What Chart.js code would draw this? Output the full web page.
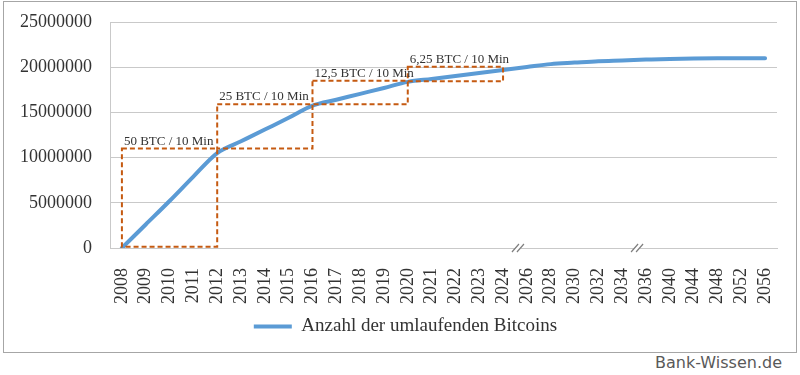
<!DOCTYPE html>
<html>
<head>
<meta charset="UTF-8"/>
<title>Anzahl der umlaufenden Bitcoins</title>
<script src="https://cdn.jsdelivr.net/npm/chart.js@4.4.0/dist/chart.umd.min.js"></script>
<style>
    body { margin: 0; background: #fff; }
    #chartBox {
        position: absolute;
        left: 3px;
        top: 1px;
        width: 792px;
        height: 350px;
        border: 1px solid #a6a6a6;
    }
    #credit {
        position: absolute;
        left: 655px;
        top: 355px;
        line-height: 16px;
        font-family: "DejaVu Sans", sans-serif;
        font-size: 16px;
        color: #595959;
    }
</style>
</head>
<body>
<div id="chartBox">
    <canvas id="btcChart"></canvas>
</div>
<div id="credit">Bank-Wissen.de</div>

<script type="text/javascript">
    // Jahre (x-Achse)
    var years = ['2008', '2009', '2010', '2011', '2012', '2013', '2014', '2015', '2016',
        '2017', '2018', '2019', '2020', '2021', '2022', '2023', '2024',
        '2026', '2028', '2030', '2032', '2034', '2036', '2040', '2044', '2048', '2052', '2056'];

    // umlaufende Bitcoins
    var coins = [0, 2600000, 5200000, 7900000, 10500000, 11800000, 13100000, 14400000, 15750000,
        16400000, 17050000, 17700000, 18380000, 18700000, 19030000, 19360000, 19690000,
        20020000, 20340000, 20510000, 20670000, 20750000, 20840000, 20920000, 20960000, 20980000, 20990000, 21000000];

    // Halving-Kästen
    var boxFrom = ['2008', '2012', '2016', '2020'];
    var boxTo = ['2012', '2016', '2020', '2024'];
    var boxLow = [150000, 11000000, 15900000, 18450000];
    var boxHigh = [11000000, 15900000, 18500000, 20050000];
    var boxText = ['50 BTC / 10 Min', '25 BTC / 10 Min', '12,5 BTC / 10 Min', '6,25 BTC / 10 Min'];

    // Achsenbruch nach diesen Jahren
    var breakAfter = ['2024', '2034'];

    var serif = '"Liberation Serif", "Times New Roman", serif';
    var gridColor = '#c9c9c9';
    var textColor = '#333333';
    var clear = 'rgba(0,0,0,0)';

    // gestrichelte Kästen + Beschriftung
    var halvingBoxes = {
        id: 'halvingBoxes',
        afterDatasetsDraw: function(chart) {
            var ctx = chart.ctx;
            var x = chart.scales.x, y = chart.scales.y;
            ctx.save();
            ctx.strokeStyle = '#c55a11';
            ctx.lineWidth = 2;
            ctx.setLineDash([5, 3]);
            for (var i = 0; i < boxFrom.length; i++) {
                var x1 = x.getPixelForValue(years.indexOf(boxFrom[i]));
                var x2 = x.getPixelForValue(years.indexOf(boxTo[i]));
                var y1 = y.getPixelForValue(boxHigh[i]);
                var y2 = y.getPixelForValue(boxLow[i]);
                ctx.strokeRect(x1, y1, x2 - x1, y2 - y1);
            }
            ctx.setLineDash([]);
            ctx.fillStyle = textColor;
            ctx.font = '13px ' + serif;
            ctx.textBaseline = 'alphabetic';
            ctx.textAlign = 'left';
            for (var j = 0; j < boxText.length; j++) {
                var tx = x.getPixelForValue(years.indexOf(boxFrom[j])) + 2;
                var ty = y.getPixelForValue(boxHigh[j]) - 4;
                ctx.fillText(boxText[j], tx, ty);
            }
            ctx.restore();
        }
    };

    // Achsenbruch-Zeichen //
    var axisBreaks = {
        id: 'axisBreaks',
        afterDraw: function(chart) {
            var ctx = chart.ctx;
            var x = chart.scales.x;
            var yb = chart.chartArea.bottom;
            ctx.save();
            for (var i = 0; i < breakAfter.length; i++) {
                var idx = years.indexOf(breakAfter[i]);
                var cx = (x.getPixelForValue(idx) + x.getPixelForValue(idx + 1)) / 2 + 3;
                ctx.fillStyle = '#ffffff';
                ctx.fillRect(cx - 3, yb - 2, 6, 4);
                ctx.strokeStyle = '#7f7f7f';
                ctx.lineWidth = 1.2;
                ctx.beginPath();
                ctx.moveTo(cx - 6, yb + 4); ctx.lineTo(cx + 1, yb - 4);
                ctx.moveTo(cx - 1, yb + 4); ctx.lineTo(cx + 6, yb - 4);
                ctx.stroke();
            }
            ctx.restore();
        }
    };

    // Legende etwas nach rechts, wie im Original
    var legendShift = {
        id: 'legendShift',
        afterLayout: function(chart) {
            chart.legend.left += 15;
            chart.legend.right += 15;
        }
    };

    var ctx = document.getElementById('btcChart').getContext('2d');
    var btcChart = new Chart(ctx, {
        type: 'line',
        data: {
            labels: years,
            datasets: [{
                label: 'Anzahl der umlaufenden Bitcoins',
                data: coins,
                borderColor: '#5b9bd5',
                backgroundColor: '#5b9bd5',
                borderWidth: 4,
                pointRadius: 0,
                pointStyle: 'line',
                cubicInterpolationMode: 'monotone',
                borderCapStyle: 'round',
                fill: false
            }]
        },
        options: {
            responsive: true,
            maintainAspectRatio: false,
            animation: false,
            layout: {
                padding: { left: 0, right: 19, top: 20, bottom: 6 }
            },
            scales: {
                x: {
                    offset: true,
                    grid: { display: true, color: clear, drawTicks: true, tickLength: 17, tickColor: clear, offset: false },
                    border: { display: true, color: gridColor, width: 1 },
                    ticks: {
                        autoSkip: false,
                        minRotation: 90,
                        maxRotation: 90,
                        padding: 3,
                        color: textColor,
                        font: { family: serif, size: 18 }
                    },
                    afterFit: function(scale) { scale.height = 59; }
                },
                y: {
                    min: 0,
                    max: 25000000,
                    grid: { color: gridColor, drawTicks: true, tickLength: 15, tickColor: clear },
                    border: { display: true, color: gridColor },
                    ticks: {
                        stepSize: 5000000,
                        padding: 3,
                        color: textColor,
                        font: { family: serif, size: 18 },
                        callback: function(v) { return String(v); }
                    },
                    afterFit: function(scale) { scale.width = 106; }
                }
            },
            plugins: {
                tooltip: { enabled: false },
                legend: {
                    position: 'bottom',
                    labels: {
                        usePointStyle: true,
                        pointStyle: 'line',
                        pointStyleWidth: 38,
                        boxHeight: 4,
                        padding: 10,
                        color: textColor,
                        font: { family: serif, size: 19 }
                    }
                }
            }
        },
        plugins: [halvingBoxes, axisBreaks, legendShift]
    });
</script>
</body>
</html>
